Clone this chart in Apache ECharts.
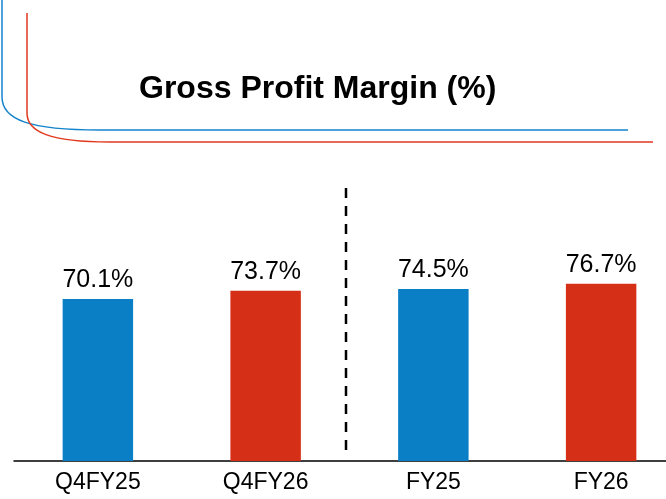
<!doctype html>
<html>
<head>
<meta charset="utf-8">
<title>Gross Profit Margin</title>
<script src="https://cdn.jsdelivr.net/npm/echarts@6/dist/echarts.min.js"></script>
<style>
  html, body { margin: 0; padding: 0; background: #fff; overflow: hidden; }
  /* the baseline runs off the right edge in the original, so the chart is a bit wider than the window */
  #main { width: 686px; height: 499px; }
</style>
</head>
<body>
<div id="main"></div>
<script>
var categories = ['Q4FY25', 'Q4FY26', 'FY25', 'FY26'];
var margins = [70.1, 73.7, 74.5, 76.7];
var barColors = ['#0A7FC6', '#D62F18', '#0A7FC6', '#D62F18'];

var chart = echarts.init(document.getElementById('main'));

var option = {
  backgroundColor: '#fff',
  animation: false,
  title: {
    text: 'Gross Profit Margin (%)',
    left: 134,
    top: 68,
    textStyle: {
      fontFamily: 'Liberation Sans',
      fontWeight: 'bold',
      fontSize: 32,
      color: '#000'
    }
  },
  grid: { left: 14, right: 1, top: 230, bottom: 38 },
  xAxis: {
    type: 'category',
    data: categories,
    axisLine: { lineStyle: { color: '#000', width: 1.5 } },
    axisTick: { show: false },
    axisLabel: {
      margin: 10,
      fontFamily: 'Liberation Sans',
      fontSize: 23,
      color: '#000'
    }
  },
  yAxis: {
    type: 'value',
    min: 0,
    max: 100,
    show: false
  },
  series: [{
    type: 'bar',
    barWidth: '42%',
    data: margins.map(function (v, i) {
      return { value: v, itemStyle: { color: barColors[i] } };
    }),
    label: {
      show: true,
      position: 'top',
      distance: 6,
      formatter: function (p) { return p.value.toFixed(1) + '%'; },
      fontFamily: 'Liberation Sans',
      fontSize: 25,
      color: '#000'
    }
  }]
};

chart.setOption(option);

// separator between quarter and full-year groups
var x1 = chart.convertToPixel({ xAxisIndex: 0 }, 1);
var x2 = chart.convertToPixel({ xAxisIndex: 0 }, 2);
var sepX = Math.round((x1 + x2) / 2) - 4;

// decorative corner lines
var blueStyle = { stroke: '#1383CC', lineWidth: 1.5, fill: null };
var redStyle = { stroke: '#E0391E', lineWidth: 1.5, fill: null };

chart.setOption({
  graphic: [
    {
      type: 'line',
      shape: { x1: sepX, y1: 188, x2: sepX, y2: 456 },
      style: { stroke: '#000', lineWidth: 2.5, lineDash: [10, 8] }
    },
    { type: 'line', shape: { x1: 2, y1: 0, x2: 2, y2: 97 }, style: blueStyle },
    { type: 'bezierCurve', shape: { x1: 2, y1: 97, cpx1: 2, cpy1: 120, cpx2: 30, cpy2: 130, x2: 100, y2: 130 }, style: blueStyle },
    { type: 'line', shape: { x1: 100, y1: 130, x2: 628, y2: 130 }, style: blueStyle },
    { type: 'line', shape: { x1: 27, y1: 13, x2: 27, y2: 113 }, style: redStyle },
    { type: 'bezierCurve', shape: { x1: 27, y1: 113, cpx1: 27, cpy1: 132, cpx2: 50, cpy2: 142, x2: 110, y2: 142 }, style: redStyle },
    { type: 'line', shape: { x1: 110, y1: 142, x2: 653, y2: 142 }, style: redStyle }
  ]
});
</script>
</body>
</html>
